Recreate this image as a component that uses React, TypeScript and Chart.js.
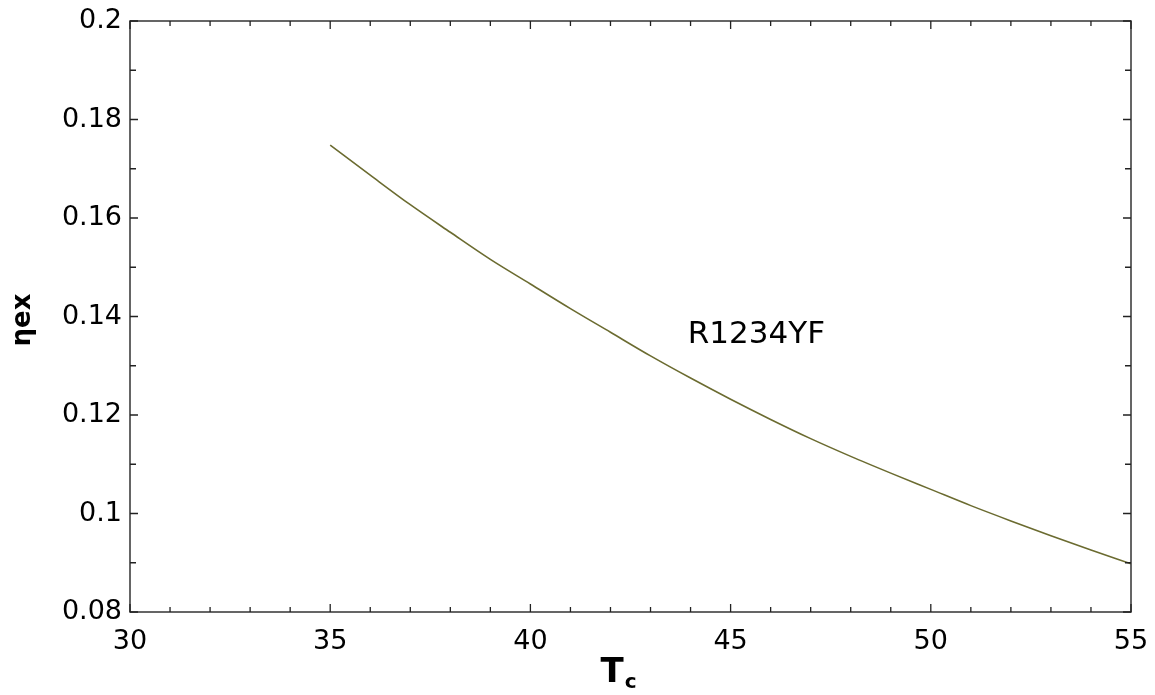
import React, { useEffect, useRef } from "react";
import { Chart, registerables } from "chart.js";

Chart.register(...registerables);

const tcValues = [35, 36, 37, 38, 39, 40, 41, 42, 43, 44, 45, 46, 47, 48, 49, 50, 51, 52, 53, 54, 55];
const etaValues = [
  0.1748, 0.1687, 0.1627, 0.1571, 0.1516, 0.1466, 0.1416, 0.1368, 0.132, 0.1275, 0.1232,
  0.1191, 0.1152, 0.1116, 0.1082, 0.1049, 0.1016, 0.0985, 0.0955, 0.0926, 0.0898,
];
const xMin = 30;
const xMax = 55;
const xMajorStep = 5;
const xMinorStep = 1;
const yMin = 0.08;
const yMax = 0.2;
const yMajorStep = 0.02;
const yMinorStep = 0.01;
const seriesLabel = "R1234YF";
const labelAt = { x: 43.93, y: 0.1346 };
const xTitle = { main: "T", sub: "c" };
const yTitle = "ηex";

const FONT = "'DejaVu Sans', 'Liberation Sans', Arial, sans-serif";

const framePlugin = {
  id: "frameTicks",
  afterDraw(chart: any) {
    const { ctx, chartArea, scales } = chart;
    const xs = scales.x;
    const ys = scales.y;
    const { left, right, top, bottom } = chartArea;
    ctx.save();
    ctx.strokeStyle = "#333333";
    ctx.lineWidth = 1.5;
    ctx.strokeRect(left, top, right - left, bottom - top);
    ctx.lineWidth = 1.3;
    ctx.strokeStyle = "#222222";
    const nx = Math.round((xMax - xMin) / xMinorStep);
    for (let i = 0; i <= nx; i++) {
      const v = xMin + i * xMinorStep;
      const px = xs.getPixelForValue(v);
      const r = (v - xMin) / xMajorStep;
      const major = Math.abs(r - Math.round(r)) < 1e-6;
      const len = major ? 8 : 5;
      ctx.beginPath();
      ctx.moveTo(px, bottom);
      ctx.lineTo(px, bottom - len);
      ctx.moveTo(px, top);
      ctx.lineTo(px, top + len);
      ctx.stroke();
    }
    const ny = Math.round((yMax - yMin) / yMinorStep);
    for (let i = 0; i <= ny; i++) {
      const v = yMin + i * yMinorStep;
      const py = ys.getPixelForValue(v);
      const r = (v - yMin) / yMajorStep;
      const major = Math.abs(r - Math.round(r)) < 1e-6;
      const len = major ? 8 : 6;
      ctx.beginPath();
      ctx.moveTo(left, py);
      ctx.lineTo(left + len, py);
      ctx.moveTo(right, py);
      ctx.lineTo(right - len, py);
      ctx.stroke();
    }
    ctx.fillStyle = "#000000";
    ctx.font = `31px ${FONT}`;
    ctx.textAlign = "left";
    ctx.textBaseline = "alphabetic";
    ctx.fillText(seriesLabel, xs.getPixelForValue(labelAt.x), ys.getPixelForValue(labelAt.y));
    const cx = (left + right) / 2;
    ctx.font = `bold 34px ${FONT}`;
    const tw = ctx.measureText(xTitle.main).width;
    ctx.fillText(xTitle.main, cx - 30, 682);
    ctx.font = `bold 20px ${FONT}`;
    ctx.fillText(xTitle.sub, cx - 30 + tw + 1, 688);
    ctx.translate(30, 320);
    ctx.rotate(-Math.PI / 2);
    ctx.font = `bold 26px ${FONT}`;
    ctx.textAlign = "center";
    ctx.fillText(yTitle, 0, 0);
    ctx.restore();
  },
};

export default function App() {
  const ref = useRef<HTMLCanvasElement>(null);
  useEffect(() => {
    document.body.style.margin = "0";
    const canvas = ref.current;
    if (!canvas) return;
    const chart = new Chart(canvas, {
      type: "line",
      data: {
        datasets: [
          {
            label: seriesLabel,
            data: tcValues.map((x, i) => ({ x, y: etaValues[i] })),
            borderColor: "#6b6b30",
            borderWidth: 1.6,
            pointRadius: 0,
            cubicInterpolationMode: "monotone",
            fill: false,
          },
        ],
      },
      options: {
        responsive: false,
        animation: false,
        events: [],
        layout: { padding: { left: 0, right: 24, top: 21, bottom: 0 } },
        plugins: { legend: { display: false }, tooltip: { enabled: false } },
        scales: {
          x: {
            type: "linear",
            min: xMin,
            max: xMax,
            grid: { display: false, drawTicks: false },
            border: { display: false },
            ticks: {
              stepSize: xMajorStep,
              color: "#000",
              font: { family: FONT, size: 27 },
              padding: 14,
              maxRotation: 0,
            },
            afterFit(scale: any) {
              scale.height = 83;
              scale.paddingLeft = 0;
              scale.paddingRight = 0;
            },
          },
          y: {
            type: "linear",
            min: yMin,
            max: yMax,
            grid: { display: false, drawTicks: false },
            border: { display: false },
            ticks: {
              stepSize: yMajorStep,
              color: "#000",
              font: { family: FONT, size: 27 },
              padding: 8,
              callback: (v: any) => String(Math.round(Number(v) * 100) / 100),
            },
            afterFit(scale: any) {
              scale.width = 130;
              scale.paddingTop = 0;
              scale.paddingBottom = 0;
            },
          },
        },
      },
      plugins: [framePlugin],
    });
    return () => chart.destroy();
  }, []);
  return (
    <div style={{ position: "fixed", left: 0, top: 0, width: 1155, height: 695, background: "#fff" }}>
      <canvas ref={ref} width={1155} height={695} />
    </div>
  );
}
